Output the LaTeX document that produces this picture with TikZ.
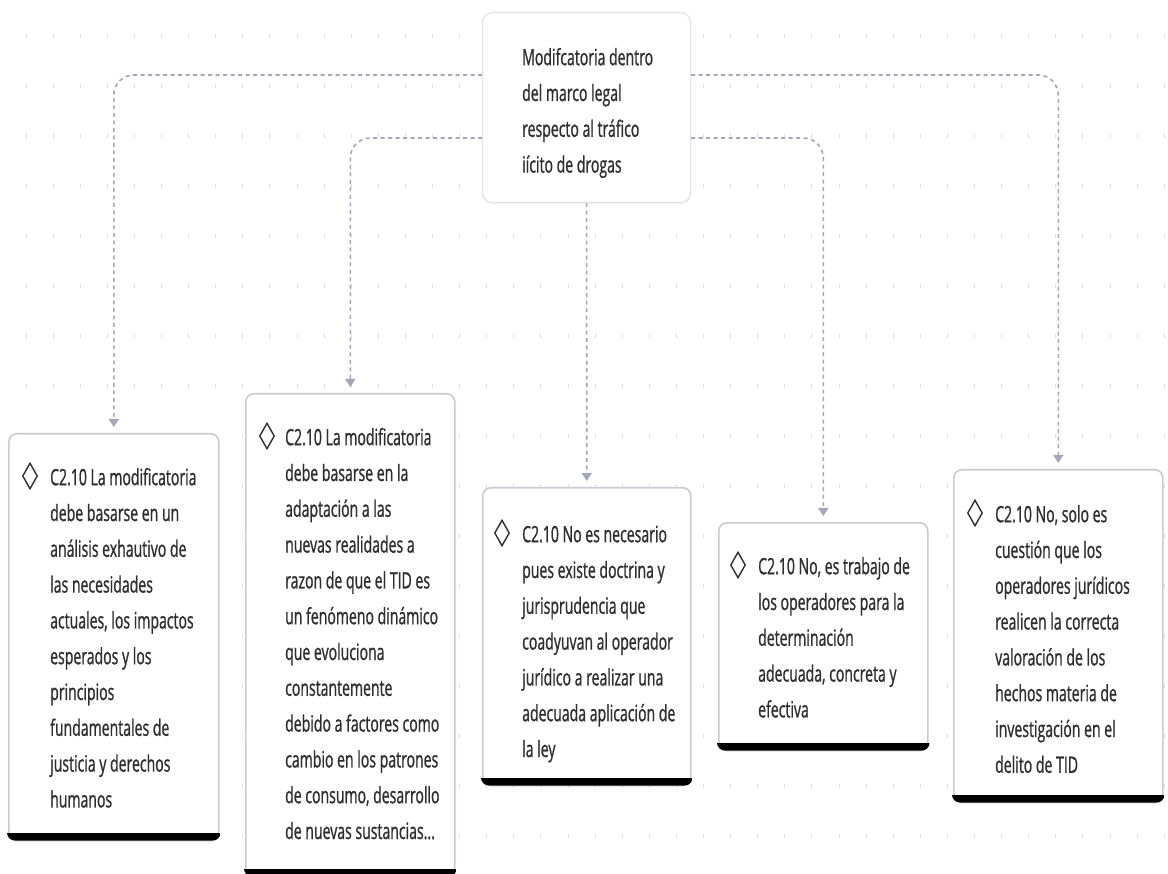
\documentclass[tikz,border=0pt]{standalone}
\usepackage{fontspec}
\newfontfamily\boxfont[FakeStretch=0.625,FakeBold=0.9]{Open Sans}
\usetikzlibrary{arrows.meta,shapes.geometric,calc,shadows}
\definecolor{conncol}{HTML}{A6A6BA}
\definecolor{tickcol}{HTML}{DCDCE4}
\definecolor{bordercol}{HTML}{CACAD2}
\definecolor{rootborder}{HTML}{E2E2E8}
\definecolor{txtcol}{HTML}{2E2E2E}
\newcommand\cardbar[1]{%
  \begin{scope}
    \clip[rounded corners=8pt] ($(#1.north west)+(-1,-1)$) rectangle ($(#1.south east)+(1,1)$);
    \fill[black] ($(#1.south west)+(-1,-7)$) rectangle ($(#1.south east)+(1,1)$);
  \end{scope}}
\begin{document}
\begin{tikzpicture}[x=1pt,y=-1pt,
  card/.style={draw=bordercol, line width=1.6pt, fill=white, rounded corners=8pt, inner sep=0pt,
    anchor=north west, drop shadow={opacity=0.18, shadow xshift=0pt, shadow yshift=-3pt}},
  rootcard/.style={draw=rootborder, line width=1.2pt, fill=white, rounded corners=10pt, inner sep=0pt,
    anchor=north west, drop shadow={opacity=0.06, shadow xshift=0pt, shadow yshift=-2pt}},
  txt/.style={inner sep=0pt, align=left, anchor=north west, text=txtcol,
    font=\boxfont\fontsize{22.5pt}{35.8pt}\selectfont},
  dmark/.style={diamond, draw=txtcol, line width=1.4pt, minimum width=15pt, minimum height=26pt, inner sep=0pt},
  conn/.style={draw=conncol, line width=1.6pt, dash pattern=on 4pt off 3.5pt, rounded corners=20pt,
    -{Triangle[width=10pt,length=8pt]}, shorten >=6pt},
  gridtick/.style={draw=tickcol, line width=1pt}
]
\useasboundingbox (0,0) rectangle (1168,874);
\fill[white] (0,0) rectangle (1168,874);
% background tick grid
\foreach \i in {0,...,42}{
  \foreach \j in {0,...,16}{
    \draw[gridtick] ({26+27.1*\i},{34+50*\j}) -- ++(0,4);
  }
}
% root
\node[rootcard, minimum width=208pt, minimum height=190pt] (root) at (482,12) {};
\node[txt] (troot) at (522,45) {\rule{0pt}{20pt}Modifcatoria dentro\\del marco legal\\respecto al tráfico\\iícito de drogas};
% cards
\node[card, minimum width=210pt, minimum height=405pt] (b1) at (8,433) {};
\node[card, minimum width=209pt, minimum height=481pt] (b2) at (245,393) {};
\node[card, minimum width=208pt, minimum height=296pt] (b3) at (482,487) {};
\node[card, minimum width=209pt, minimum height=226pt] (b4) at (718,522) {};
\node[card, minimum width=209pt, minimum height=331pt] (b5) at (953,469) {};
\cardbar{b1}\cardbar{b2}\cardbar{b3}\cardbar{b4}\cardbar{b5}
% texts
\node[dmark] (d1) at (30,476) {};
\node[txt] (t1) at (50,465) {\rule{0pt}{20pt}C2.10 La modificatoria\\debe basarse en un\\análisis exhautivo de\\las necesidades\\actuales, los impactos\\esperados y los\\principios\\fundamentales de\\justicia y derechos\\humanos};
\node[dmark] (d2) at (267,436) {};
\node[txt] (t2) at (285,425) {\rule{0pt}{20pt}C2.10 La modificatoria\\debe basarse en la\\adaptación a las\\nuevas realidades a\\razon de que el TID es\\un fenómeno dinámico\\que evoluciona\\constantemente\\debido a factores como\\cambio en los patrones\\de consumo, desarrollo\\de nuevas sustancias...};
\node[dmark] (d3) at (502,533) {};
\node[txt] (t3) at (522,522) {\rule{0pt}{20pt}C2.10 No es necesario\\pues existe doctrina y\\jurisprudencia que\\coadyuvan al operador\\jurídico a realizar una\\adecuada aplicación de\\la ley};
\node[dmark] (d4) at (738,565) {};
\node[txt] (t4) at (758,554) {\rule{0pt}{20pt}C2.10 No, es trabajo de\\los operadores para la\\determinación\\adecuada, concreta y\\efectiva};
\node[dmark] (d5) at (975,513) {};
\node[txt] (t5) at (995,502) {\rule{0pt}{20pt}C2.10 No, solo es\\cuestión que los\\operadores jurídicos\\realicen la correcta\\valoración de los\\hechos materia de\\investigación en el\\delito de TID};
% connectors
\draw[conn] ($(root.north west)+(0,63)$) -| (b1.north);
\draw[conn] ($(root.north west)+(0,126)$) -| (b2.north);
\draw[conn, rounded corners=0pt] (root.south) -- (b3.north);
\draw[conn] ($(root.north east)+(0,126)$) -| (b4.north);
\draw[conn] ($(root.north east)+(0,63)$) -| (b5.north);
\end{tikzpicture}
\end{document}
